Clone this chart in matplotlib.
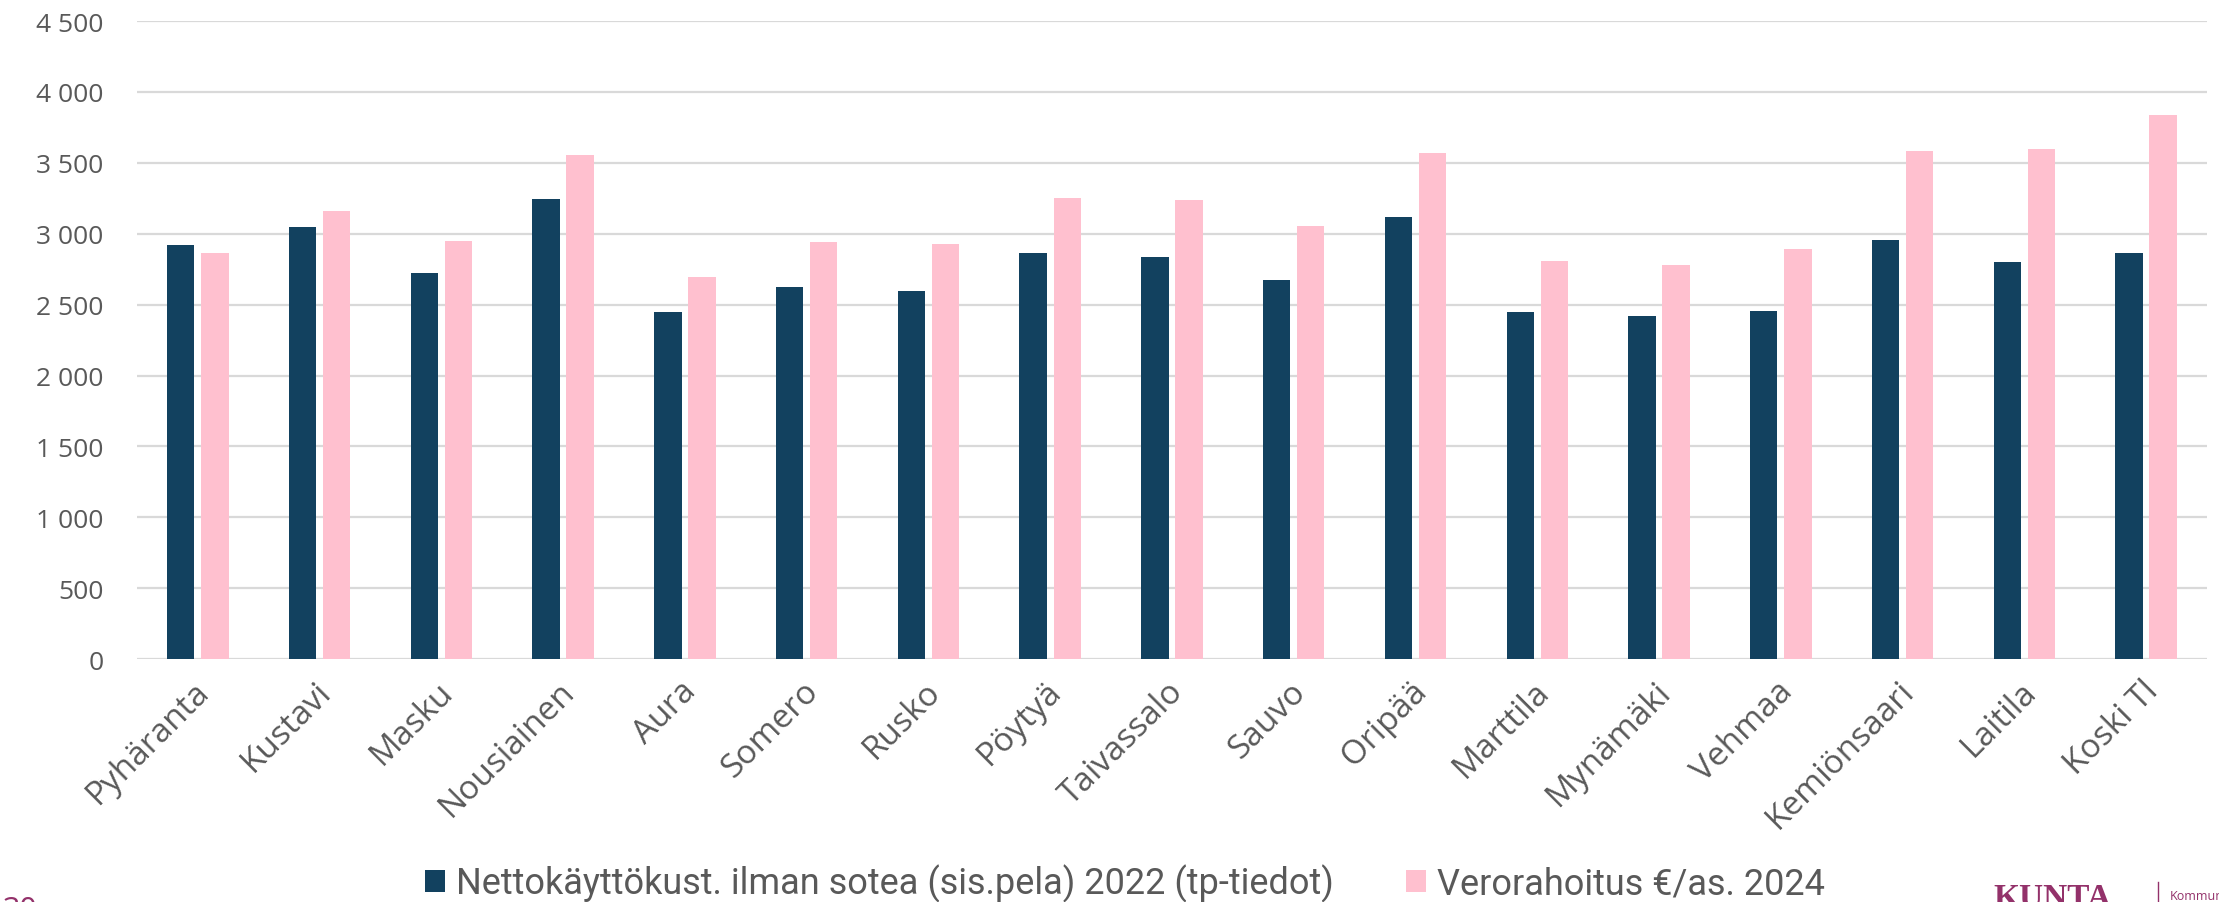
import matplotlib
matplotlib.use("Agg")
import matplotlib.pyplot as plt
import numpy as np

# data
kunnat = ["Pyhäranta", "Kustavi", "Masku", "Nousiainen", "Aura", "Somero",
          "Rusko", "Pöytyä", "Taivassalo", "Sauvo", "Oripää", "Marttila",
          "Mynämäki", "Vehmaa", "Kemiönsaari", "Laitila", "Koski Tl"]
netto_2022 = [2918, 3044, 2722, 3242, 2445, 2625, 2593, 2867, 2839, 2672,
              3119, 2451, 2423, 2458, 2959, 2804, 2867]
vero_2024 = [2861, 3160, 2950, 3557, 2697, 2943, 2927, 3252, 3239, 3053,
             3567, 2808, 2779, 2893, 3583, 3598, 3835]
y_ticks = [0, 500, 1000, 1500, 2000, 2500, 3000, 3500, 4000, 4500]
y_labels = ["0", "500", "1 000", "1 500", "2 000", "2 500", "3 000",
            "3 500", "4 000", "4 500"]
legend_labels = ["Nettokäyttökust. ilman sotea (sis.pela) 2022 (tp-tiedot)",
                 "Verorahoitus €/as. 2024"]

dark = "#12415F"
pink = "#FFC0CF"
grey_txt = "#595959"
purple = "#93316A"

plt.rcParams['font.family'] = ['Open Sans', 'DejaVu Sans']

fig = plt.figure(figsize=(22.19, 9.03), dpi=100)
ax = fig.add_axes([0.0617, 0.269, 0.9329, 0.7066])

x = np.arange(len(kunnat))
w = 0.225
b1 = ax.bar(x - 0.14, netto_2022, w, color=dark, zorder=3)
b2 = ax.bar(x + 0.14, vero_2024, w, color=pink, zorder=3)

ax.set_xlim(-0.5, len(kunnat) - 0.5)
ax.set_ylim(0, 4500)
ax.set_yticks(y_ticks)
ax.set_yticklabels(y_labels, fontsize=19, color=grey_txt)
ax.set_xticks(x - 0.04)
ax.set_xticklabels(kunnat, rotation=45, ha="right", rotation_mode="anchor",
                   fontsize=24, color=grey_txt)
ax.tick_params(axis="both", length=0)
ax.tick_params(axis="y", pad=24)
ax.tick_params(axis="x", pad=11)
ax.grid(axis="y", color="#D9D9D9", linewidth=1.6, zorder=0)
for s in ax.spines.values():
    s.set_visible(False)

leg = fig.legend([b1, b2], legend_labels, loc="center",
                 bbox_to_anchor=(0.507, 1 - 884 / 903), ncol=2, frameon=False,
                 handlelength=0.55, handleheight=0.55, handletextpad=0.3,
                 columnspacing=2.0,
                 prop={'family': ['Liberation Sans Narrow', 'Roboto'],
                       'size': 26})
for t in leg.get_texts():
    t.set_color(grey_txt)

# page furniture at the bottom edge (cut off in the original too)
fig.text(3 / 2219, 1 - 896 / 903, "30", color=purple, fontsize=22,
         va="top", ha="left")
fig.text(1993 / 2219, 1 - 883 / 903, "KUNTA", color=purple, fontsize=24,
         fontweight="bold", family=["Liberation Serif", "DejaVu Serif"],
         va="top", ha="left")
fig.add_artist(plt.Line2D([2158 / 2219, 2158 / 2219], [0, 1 - 883 / 903],
                          color=purple, linewidth=1))
fig.text(2170 / 2219, 1 - 890 / 903, "Kommuner", color=purple, fontsize=9,
         va="top", ha="left")

fig.savefig("out.png", dpi=100)
